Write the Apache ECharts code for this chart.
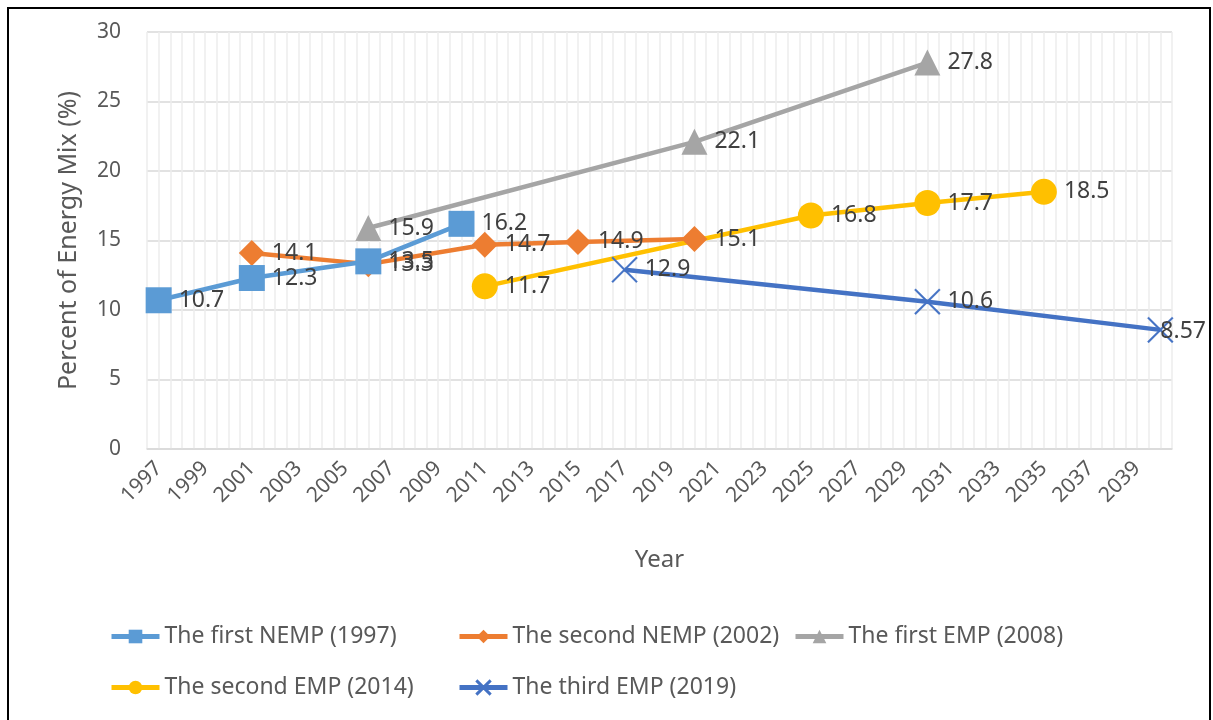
<!DOCTYPE html>
<html>
<head>
<meta charset="utf-8">
<script src="https://cdn.jsdelivr.net/npm/echarts@6/dist/echarts.min.js"></script>
<style>
  html, body { margin: 0; padding: 0; background: #fff; }
  #wrap { position: relative; width: 1213px; height: 720px; overflow: hidden; }
  #frame { position: absolute; left: 7px; top: 7px; width: 1204px; height: 720px; border: 2px solid #000; box-sizing: border-box; }
  #main { position: absolute; left: 0; top: 0; width: 1213px; height: 720px; }
</style>
</head>
<body>
<div id="wrap">
  <div id="frame"></div>
  <div id="main"></div>
</div>
<script>
  // plan names
  var names = ['The first NEMP (1997)', 'The second NEMP (2002)', 'The first EMP (2008)', 'The second EMP (2014)', 'The third EMP (2019)']

  // years and values per plan
  var nemp1Years = [1997, 2001, 2006, 2010]
  var nemp1Values = [10.7, 12.3, 13.5, 16.2]
  var nemp2Years = [2001, 2006, 2011, 2015, 2020]
  var nemp2Values = [14.1, 13.3, 14.7, 14.9, 15.1]
  var emp1Years = [2006, 2020, 2030]
  var emp1Values = [15.9, 22.1, 27.8]
  var emp2Years = [2011, 2025, 2030, 2035]
  var emp2Values = [11.7, 16.8, 17.7, 18.5]
  var emp3Years = [2017, 2030, 2040]
  var emp3Values = [12.9, 10.6, 8.57]

  var firstYear = 1997
  var lastYear = 2040
  var yTicks = [0, 5, 10, 15, 20, 25, 30]

  var colors = ['#5B9BD5', '#ED7D31', '#A5A5A5', '#FFC000', '#4472C4']
  var symbols = ['rect', 'diamond', 'triangle', 'circle',
    'path://M0,1L1,0L10,9L19,0L20,1L11,10L20,19L19,20L10,11L1,20L0,19L9,10Z']

  function pairs(xs, ys) {
    return xs.map(function (x, i) { return [x, ys[i]] })
  }

  var allData = [
    pairs(nemp1Years, nemp1Values),
    pairs(nemp2Years, nemp2Values),
    pairs(emp1Years, emp1Values),
    pairs(emp2Years, emp2Values),
    pairs(emp3Years, emp3Values)
  ]

  var chart = echarts.init(document.getElementById('main'))

  var legendPos = [
    { left: 104, top: 620 },
    { left: 452, top: 620 },
    { left: 788, top: 620 },
    { left: 104, top: 671 },
    { left: 452, top: 671 }
  ]

  var option = {
    animation: false,
    textStyle: { fontFamily: 'Noto Sans' },
    grid: { left: 147, right: 41, top: 32, bottom: 271 },
    legend: names.map(function (n, i) {
      return {
        data: [n],
        left: legendPos[i].left,
        top: legendPos[i].top,
        itemWidth: 48,
        itemHeight: 17,
        itemGap: 0,
        lineStyle: { width: 5 },
        textStyle: { color: '#595959', fontSize: 23, fontFamily: 'Noto Sans' }
      }
    }),
    xAxis: {
      type: 'value',
      name: 'Year',
      nameLocation: 'middle',
      nameGap: 99,
      nameTextStyle: { color: '#595959', fontSize: 24 },
      min: firstYear - 0.5,
      max: lastYear + 0.5,
      interval: 0.5,
      axisLine: { show: true, onZero: false, lineStyle: { color: '#d9d9d9', width: 1.5 } },
      axisTick: { show: false },
      axisLabel: {
        rotate: 45,
        margin: 16,
        color: '#595959',
        fontSize: 21,
        formatter: function (v) {
          return (Number.isInteger(v) && (v - firstYear) % 2 === 0) ? String(v) : ''
        }
      },
      splitLine: { show: true, lineStyle: { color: '#ececec', width: 1.5 } }
    },
    yAxis: {
      type: 'value',
      name: 'Percent of Energy Mix (%)',
      nameLocation: 'middle',
      nameGap: 66,
      nameTextStyle: { color: '#595959', fontSize: 25 },
      min: yTicks[0],
      max: yTicks[yTicks.length - 1],
      interval: 5,
      axisLine: { show: false },
      axisTick: { show: false },
      axisLabel: { color: '#595959', fontSize: 21, margin: 26 },
      splitLine: { show: true, lineStyle: { color: '#d9d9d9', width: 1.5 } }
    },
    series: names.map(function (n, i) {
      return {
        name: n,
        type: 'line',
        data: allData[i],
        symbol: symbols[i],
        symbolSize: 26,
        showAllSymbol: true,
        z: i === 0 ? 3 : 2,
        lineStyle: { color: colors[i], width: 4.5 },
        itemStyle: { color: colors[i], borderColor: colors[i], borderWidth: i === 4 ? 0.3 : 0 },
        label: {
          show: true,
          position: 'right',
          distance: 7,
          offset: [0, 2],
          color: '#404040',
          fontSize: 23,
          formatter: function (p) { return String(p.value[1]) }
        },
        // keep labels inside the frame, like the spreadsheet does
        labelLayout: function (params) {
          var r = params.labelRect
          if (r.x + r.width > 1206) {
            return { x: 1206 - r.width, y: r.y + r.height / 2, align: 'left', verticalAlign: 'middle' }
          }
        }
      }
    })
  }

  chart.setOption(option)
</script>
</body>
</html>
